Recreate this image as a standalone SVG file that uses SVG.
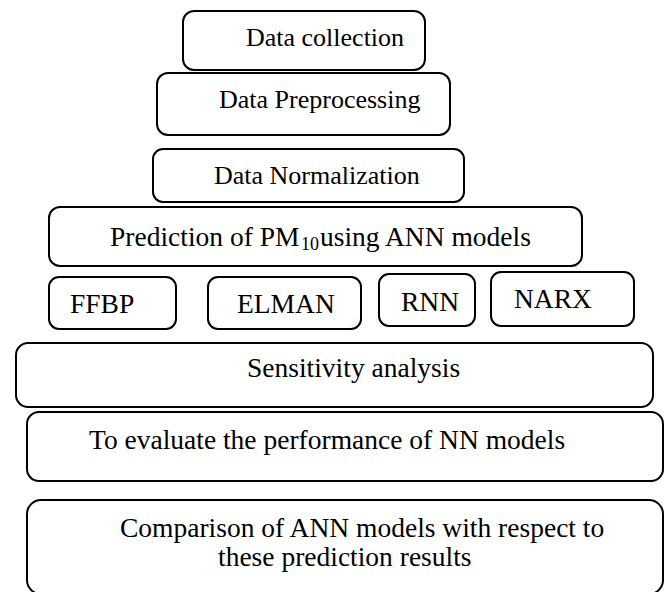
<svg xmlns="http://www.w3.org/2000/svg" width="665" height="592" viewBox="0 0 665 592">
<style>
.box{fill:#fff;stroke:#000;stroke-width:2}
.t{font-family:"Liberation Serif","Times New Roman",serif;font-size:27.5px;fill:#000}
.s{font-size:26px}
</style>
<rect width="665" height="592" fill="#fff"/>
<g id="connectors"></g>
<g id="n-collection"><rect class="box" x="183" y="11" width="242" height="59" rx="11"/><text class="t s" x="246" y="46">Data collection</text></g>
<g id="n-preprocessing"><rect class="box" x="157" y="73" width="293" height="62" rx="11"/><text class="t s" x="219" y="108">Data Preprocessing</text></g>
<g id="n-normalization"><rect class="box" x="153" y="149" width="311" height="53" rx="10"/><text class="t s" x="214" y="184">Data Normalization</text></g>
<g id="n-prediction"><rect class="box" x="49" y="207" width="533" height="59" rx="11"/><text class="t" x="110" y="246">Prediction of PM<tspan font-size="18" x="301" dy="4">10</tspan><tspan x="320" dy="-4">using ANN models</tspan></text></g>
<g id="n-ffbp"><rect class="box" x="49" y="277" width="127" height="52" rx="10"/><text class="t" x="70" y="313">FFBP</text></g>
<g id="n-elman"><rect class="box" x="208" y="277" width="153" height="52" rx="10"/><text class="t" x="237" y="313">ELMAN</text></g>
<g id="n-rnn"><rect class="box" x="379" y="274" width="96" height="52" rx="10"/><text class="t" x="401" y="311">RNN</text></g>
<g id="n-narx"><rect class="box" x="491" y="272" width="143" height="54" rx="10"/><text class="t" x="514" y="308">NARX</text></g>
<g id="n-sensitivity"><rect class="box" x="16" y="343" width="637" height="64" rx="12"/><text class="t" x="247" y="377">Sensitivity analysis</text></g>
<g id="n-evaluate"><rect class="box" x="27" y="412" width="636" height="69" rx="12"/><text class="t" x="89" y="449">To evaluate the performance of NN models</text></g>
<g id="n-comparison"><rect class="box" x="27" y="500" width="636" height="94" rx="14"/><text class="t" x="120" y="537">Comparison of ANN models with respect to</text><text class="t" x="218" y="566">these prediction results</text></g>
</svg>
